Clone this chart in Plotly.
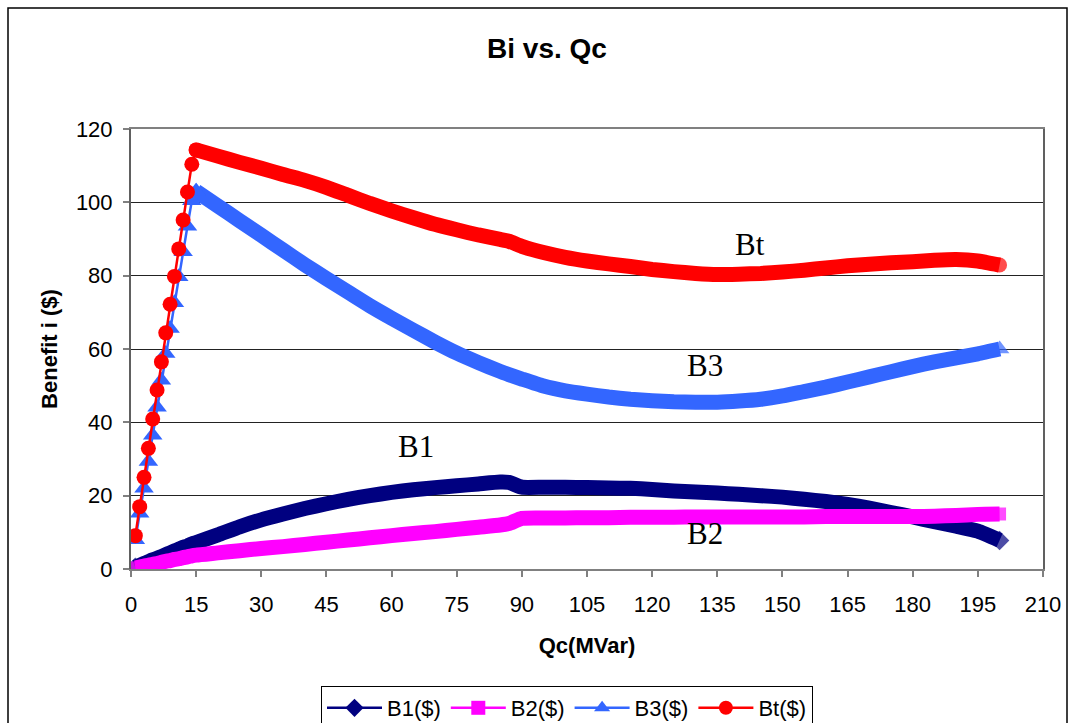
import plotly.graph_objects as go

# ---- data ----
qc = [1, 2, 3, 4, 5, 6, 7, 8, 9, 10, 11, 12, 13, 14, 15,
      20, 25, 30, 35, 40, 45, 50, 55, 60, 65, 70, 75, 80, 85, 87,
      90, 95, 100, 105, 110, 115, 120, 125, 130, 135, 140, 145, 150, 155,
      160, 165, 170, 175, 180, 185, 190, 195, 200]

b1 = [0.5, 1.0, 1.5, 2.0, 2.5, 2.9, 3.4, 3.9, 4.4, 4.9, 5.4, 5.9, 6.3, 6.8, 7.2,
      9.3, 11.5, 13.4, 15.0, 16.5, 17.8, 19.0, 20.0, 20.9, 21.6, 22.2, 22.7, 23.2, 23.7, 23.6,
      22.3, 22.3, 22.3, 22.2, 22.1, 22.0, 21.7, 21.3, 21.0, 20.7, 20.4, 20.0, 19.6, 19.0,
      18.4, 17.6, 16.6, 15.4, 14.2, 12.9, 11.7, 10.3, 7.8]

b2 = [0.3, 0.5, 0.8, 1.0, 1.3, 1.5, 1.8, 2.1, 2.3, 2.6, 2.8, 3.1, 3.3, 3.6, 3.8,
      4.4, 5.0, 5.6, 6.1, 6.7, 7.3, 7.9, 8.5, 9.1, 9.7, 10.2, 10.8, 11.4, 12.0, 12.4,
      13.8, 13.9, 13.9, 14.0, 14.0, 14.1, 14.1, 14.1, 14.2, 14.2, 14.2, 14.2, 14.2, 14.2,
      14.3, 14.3, 14.3, 14.3, 14.3, 14.4, 14.6, 14.9, 15.0]

b3 = [8.0, 15.2, 22.0, 29.3, 36.5, 44.1, 51.5, 58.8, 65.6, 72.6, 79.7, 86.5, 93.5, 100.4, 103.0,
      99.0, 95.0, 91.0, 87.0, 83.0, 79.2, 75.5, 71.8, 68.4, 65.1, 61.9, 58.9, 56.3, 53.9, 53.0,
      51.8, 49.9, 48.6, 47.7, 46.9, 46.3, 45.9, 45.6, 45.5, 45.5, 45.8, 46.3, 47.2, 48.4,
      49.6, 51.0, 52.4, 53.8, 55.2, 56.5, 57.6, 58.7, 60.0]

bt = [9.1, 17.0, 25.0, 32.9, 40.9, 48.8, 56.5, 64.4, 72.2, 79.8, 87.3, 95.2, 102.8, 110.4, 114.3,
      112.6, 110.9, 109.3, 107.6, 106.0, 104.1, 101.9, 99.7, 97.7, 95.8, 94.0, 92.5, 91.1, 89.9, 89.4,
      88.0, 86.3, 85.0, 84.0, 83.2, 82.5, 81.7, 81.1, 80.6, 80.3, 80.4, 80.6, 81.0, 81.5,
      82.1, 82.7, 83.1, 83.5, 83.8, 84.2, 84.4, 84.0, 82.9]

names = ["B1($)", "B2($)", "B3($)", "Bt($)"]
colors = ["#000080", "#FF00FF", "#3366FF", "#FF0000"]
symbols = ["diamond", "square", "triangle-up", "circle"]
x_ticks = list(range(0, 211, 15))
y_ticks = list(range(0, 121, 20))
labels = [("B1", 65.6, 33.3), ("B2", 132.2, 9.8), ("B3", 132.1, 55.6), ("Bt", 142.6, 88.4)]

SANS = "Liberation Sans, Arial, sans-serif"
SERIF = "Liberation Serif, Times New Roman, serif"
BAND = 15
n_rise = 15
marker_sizes = {"diamond": 15, "square": 13, "triangle-up": 17, "circle": 15}

fig = go.Figure()

def end_sizes(n, size):
    return [size] + [0] * (n - 2) + [size]

# dense (band) series B1, B2 over the full range
for vals, col, sym in [(b1, colors[0], symbols[0]), (b2, colors[1], symbols[1])]:
    fig.add_trace(go.Scatter(x=qc, y=vals, mode="lines+markers", showlegend=False,
                             line=dict(color=col, width=BAND, shape="spline", smoothing=0.5),
                             marker=dict(symbol=sym, color=col,
                                         size=end_sizes(len(qc), marker_sizes[sym]),
                                         line=dict(width=0)),
                             hoverinfo="skip"))

# B3 and Bt: band tail + marker rise
for vals, col, sym in [(b3, colors[2], symbols[2]), (bt, colors[3], symbols[3])]:
    tail_x = qc[n_rise - 1:]
    tail_y = vals[n_rise - 1:]
    fig.add_trace(go.Scatter(x=tail_x, y=tail_y, mode="lines+markers", showlegend=False,
                             line=dict(color=col, width=BAND, shape="spline", smoothing=0.5),
                             marker=dict(symbol=sym, color=col,
                                         size=end_sizes(len(tail_x), marker_sizes[sym]),
                                         line=dict(width=0)),
                             hoverinfo="skip"))
    fig.add_trace(go.Scatter(x=qc[:n_rise], y=vals[:n_rise], mode="lines+markers", showlegend=False,
                             line=dict(color=col, width=2.5),
                             marker=dict(symbol=sym, color=col, size=marker_sizes[sym],
                                         line=dict(width=0)),
                             hoverinfo="skip"))

# legend entries
for nm, col, sym in zip(names, colors, symbols):
    fig.add_trace(go.Scatter(x=[None], y=[None], mode="lines+markers", name=nm,
                             line=dict(color=col, width=2.5),
                             marker=dict(symbol=sym, color=col, size=14, line=dict(width=0))))

for txt, lx, ly in labels:
    fig.add_annotation(x=lx, y=ly, text=txt, showarrow=False, xref="x", yref="y",
                       font=dict(family=SERIF, size=31, color="black"))

# outer chart border
fig.add_shape(type="rect", xref="paper", yref="paper",
              x0=(8 - 131) / 912, x1=(1067 - 131) / 912,
              y0=(569 - 740) / 440, y1=(569 - 8) / 440,
              line=dict(color="black", width=1.5), fillcolor="rgba(0,0,0,0)", layer="below")

fig.update_layout(
    width=1075, height=723,
    margin=dict(l=131, r=32, t=129, b=154, autoexpand=False),
    paper_bgcolor="white", plot_bgcolor="white",
    font=dict(family=SANS, size=22, color="black"),
    title=dict(text="<b>Bi vs. Qc</b>", font=dict(family=SANS, size=28, color="black"),
               x=(547 - 131) / 912, xref="paper", xanchor="center",
               y=1 - 48 / 723, yref="container", yanchor="middle"),
    xaxis=dict(range=[0, 210], tickvals=x_ticks, ticks="outside", ticklen=6,
               tickcolor="#808080", tickwidth=1.5, showline=True, linecolor="#808080",
               linewidth=2, mirror=True, showgrid=False, zeroline=False,
               ticklabelstandoff=9,
               tickfont=dict(family=SANS, size=22, color="black"),
               title=dict(text="<b>Qc(MVar)</b>", font=dict(family=SANS, size=22, color="black"),
                          standoff=21)),
    yaxis=dict(range=[0, 120], tickvals=y_ticks, ticks="outside", ticklen=6,
               tickcolor="#808080", tickwidth=1.5, showline=True, linecolor="#606060",
               linewidth=2, mirror=True, showgrid=True, gridcolor="#222222", gridwidth=1,
               zeroline=False, ticklabelstandoff=6,
               tickfont=dict(family=SANS, size=22, color="black"),
               title=dict(text="<b>Benefit i ($)</b>", font=dict(family=SANS, size=22, color="black"),
                          standoff=12)),
    legend=dict(orientation="h", x=(567 - 131) / 912, xanchor="center",
                y=(569 - 686) / 440, yanchor="top", bgcolor="white",
                bordercolor="black", borderwidth=1,
                font=dict(family=SANS, size=22, color="black"),
                itemwidth=55, traceorder="normal"),
)

fig.write_html("out.html")
